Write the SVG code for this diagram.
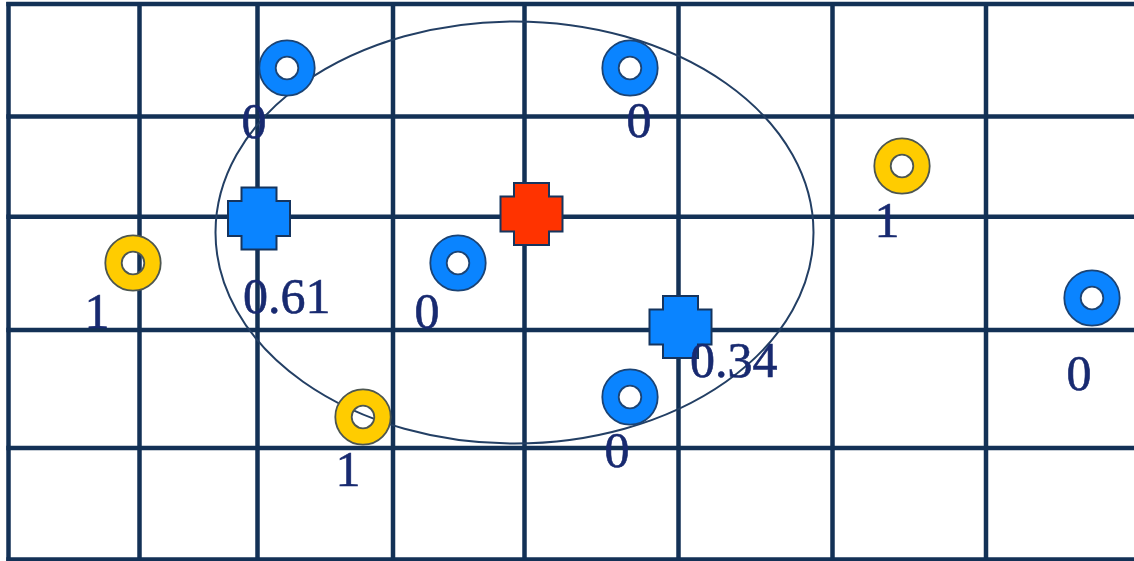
<svg xmlns="http://www.w3.org/2000/svg" width="1134" height="561" viewBox="0 0 1134 561">
<style>
.grid line{stroke:#133156;stroke-width:4.5}
.ring-b{fill:none;stroke:#0a84ff;stroke-width:16.5}
.ring-y{fill:none;stroke:#ffcc00;stroke-width:16.5}
.edge-b{fill:none;stroke:#1b4374;stroke-width:1.8}
.edge-y{fill:none;stroke:#4d5650;stroke-width:1.8}
.plus{stroke:#15345e;stroke-width:2}
.lbl{font-family:"Liberation Serif","Times New Roman",serif;font-size:50px;fill:#182a70;stroke:#182a70;stroke-width:0.6;text-anchor:middle}
.lbl-s{font-family:"Liberation Serif","Times New Roman",serif;font-size:50px;fill:#182a70;stroke:#182a70;stroke-width:0.6}
</style>
<defs>
<path id="plus" d="M-17.5,-31H17.5V-17.5H31V17.5H17.5V31H-17.5V17.5H-31V-17.5H-17.5Z"/>
<g id="rb"><circle r="19.5" class="ring-b"/><circle r="27.7" class="edge-b"/><circle r="11.3" class="edge-b"/></g>
<g id="ry"><circle r="19.5" class="ring-y"/><circle r="27.7" class="edge-y"/><circle r="11.3" class="edge-y"/></g>
</defs>
<rect width="1134" height="561" fill="#ffffff"/>
<g id="grid" class="grid">
<line x1="8.5" y1="2" x2="8.5" y2="561"/>
<line x1="139.5" y1="2" x2="139.5" y2="561"/>
<line x1="257.5" y1="2" x2="257.5" y2="561"/>
<line x1="393" y1="2" x2="393" y2="561"/>
<line x1="524.5" y1="2" x2="524.5" y2="561"/>
<line x1="678.5" y1="2" x2="678.5" y2="561"/>
<line x1="832.5" y1="2" x2="832.5" y2="561"/>
<line x1="986" y1="2" x2="986" y2="561"/>
<line x1="6.3" y1="4" x2="1134" y2="4"/>
<line x1="6.3" y1="116.5" x2="1134" y2="116.5"/>
<line x1="6.3" y1="216.7" x2="1134" y2="216.7"/>
<line x1="6.3" y1="330" x2="1134" y2="330"/>
<line x1="6.3" y1="448" x2="1134" y2="448"/>
<line x1="6.3" y1="559.5" x2="1134" y2="559.5"/>
</g>
<g id="connectors">
<ellipse cx="514.5" cy="232.5" rx="299" ry="211" fill="none" stroke="#233f64" stroke-width="2"/>
</g>
<g id="n1"><use href="#rb" x="287" y="68"/><text class="lbl" x="254" y="138">0</text></g>
<g id="n2"><use href="#rb" x="630" y="68"/><text class="lbl" x="639" y="137">0</text></g>
<g id="n3"><use href="#ry" x="902" y="166"/><text class="lbl" x="887" y="237">1</text></g>
<g id="n4"><use href="#ry" x="133" y="263"/><text class="lbl" x="97" y="328">1</text></g>
<g id="n5"><use href="#rb" x="458" y="263"/><text class="lbl" x="427" y="328">0</text></g>
<g id="n6"><use href="#rb" x="1092" y="298"/><text class="lbl" x="1079" y="390">0</text></g>
<g id="n7"><use href="#ry" x="363" y="417"/><text class="lbl" x="348" y="486">1</text></g>
<g id="n8"><use href="#rb" x="630" y="397"/><text class="lbl" x="617" y="467">0</text></g>
<g id="p1"><use href="#plus" x="259" y="218.5" class="plus" fill="#0a84ff"/><text class="lbl-s" x="243" y="313">0.61</text></g>
<g id="p2"><use href="#plus" x="531.5" y="214" class="plus" fill="#ff3300"/></g>
<g id="p3"><use href="#plus" x="680.5" y="327" class="plus" fill="#0a84ff"/><text class="lbl-s" x="690" y="377">0.34</text></g>
</svg>
